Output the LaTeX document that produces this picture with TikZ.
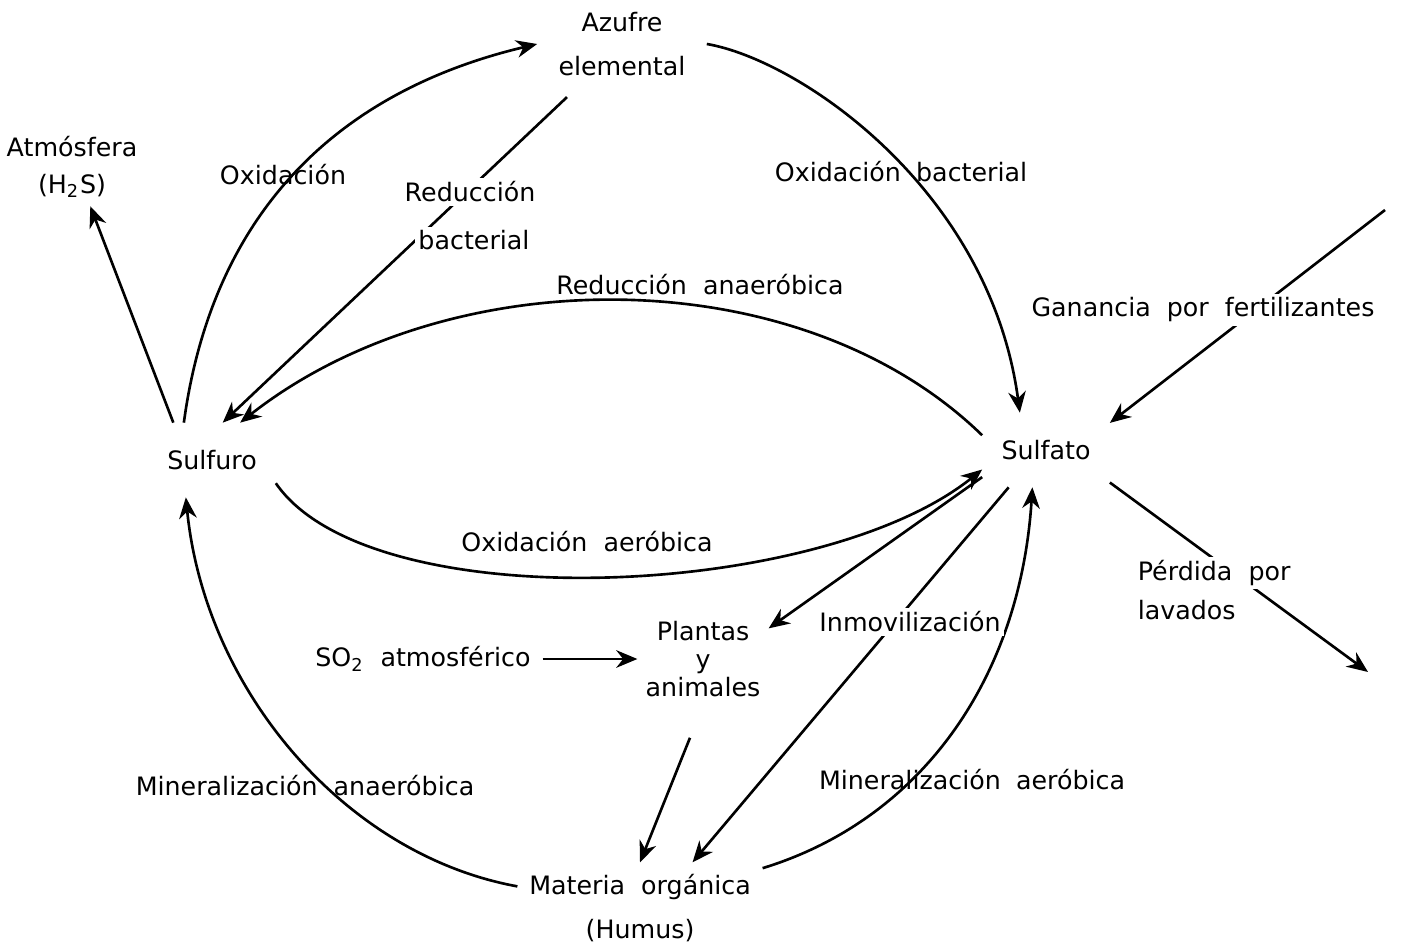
\documentclass[tikz,border=0pt]{standalone}
\usepackage{fontspec}
\setmainfont{DejaVu Sans}[WordSpace=2]
\usetikzlibrary{arrows.meta}
\tikzset{
    hub/.style={
           rectangle,
           minimum width=1.25cm,
           minimum height=0.72cm,
           inner sep=2pt,
           text centered,
           },
    tag/.style={
           inner sep=1pt,
           align=center,
           },
    cover/.style={
           tag,
           fill=white,
           },
}

\begin{document}
\begin{tikzpicture}[x=0.01cm,y=-0.01cm,->,>={Stealth[length=6pt,width=5pt]},
  line width=0.75pt,font=\fontsize{7.2}{10.5}\selectfont]
 \useasboundingbox (0,0) rectangle (1406,949);

 % compartments
 \node[hub] (SULFURO) at (212,460) {Sulfuro};
 \node[hub] (SULFATO) at (1046,450) {Sulfato};
 \node[tag, inner sep=0.2cm] (AZUFRE) at (622,44) {Azufre\\[2pt]elemental};
 \node[tag, inner sep=2pt] (ATMOS) at (72,167) {Atmósfera\\(H\textsubscript{2}S)};
 \node[tag, inner sep=2pt] (PLANTAS) at (703,659) {Plantas\\[-2.5pt]y\\[-2.5pt]animales};
 \node[tag, inner sep=3pt] (MATERIA) at (640,908) {Materia orgánica\\[2pt](Humus)};
 \node[tag, inner sep=3pt] (SOX) at (423,659) {SO\textsubscript{2} atmosférico};
 \coordinate (FERT) at (1385,210);
 \coordinate (LAVADO) at (1368,672);

 % flows
 \draw (SULFURO.136) -- (ATMOS.-65);
 \draw (SULFURO.127) .. controls (212,215) and (335,92) .. (AZUFRE.west);
 \draw (AZUFRE.224) -- (SULFURO.74);
 \draw (AZUFRE.east) .. controls (800,60) and (990,190) .. (SULFATO.125);
 \draw (SULFATO.167) .. controls (800,258) and (450,258) .. (SULFURO.53);
 \draw (SULFURO.-20) .. controls (370,620) and (820,600) .. (SULFATO.197);
 \draw (SULFATO.203) -- (PLANTAS.25);
 \draw (SULFATO.225) -- (MATERIA.41);
 \draw (MATERIA.18) .. controls (920,820) and (1020,680) .. (SULFATO.250);
 \draw (MATERIA.170) .. controls (345,855) and (205,690) .. (SULFURO.235);
 \draw[shorten <=0.35cm] (PLANTAS.south) -- (MATERIA.north);
 \draw (SOX.east) -- (PLANTAS.west);
 \draw (FERT) -- (SULFATO.23);
 \draw (SULFATO.-27) -- (LAVADO);

 % labels
 \node[tag] (OXI) at (283,175) {Oxidación};
 \node[cover] (REDUC) at (470,192) {Reducción};
 \node[cover] (BACT) at (474,240) {bacterial};
 \node[tag] (OXIBAC) at (901,172) {Oxidación\hspace{0.6em}bacterial};
 \node[tag] (REDANA) at (700,285) {Reducción anaeróbica};
 \node[cover] (GANA) at (1203,310) {Ganancia por fertilizantes};
 \node[tag] (OXIAER) at (587,542) {Oxidación aeróbica};
 \node[cover, anchor=west] (PERD) at (1133,573) {Pérdida por};
 \node[tag, anchor=west] (LAVA) at (1133,610) {lavados};
 \node[cover] (INMO) at (910,622) {Inmovilización};
 \node[tag] (MINANA) at (305,786) {Mineralización anaeróbica};
 \node[tag] (MINAER) at (972,780) {Mineralización\hspace{0.6em}aeróbica};
\end{tikzpicture}
\end{document}
